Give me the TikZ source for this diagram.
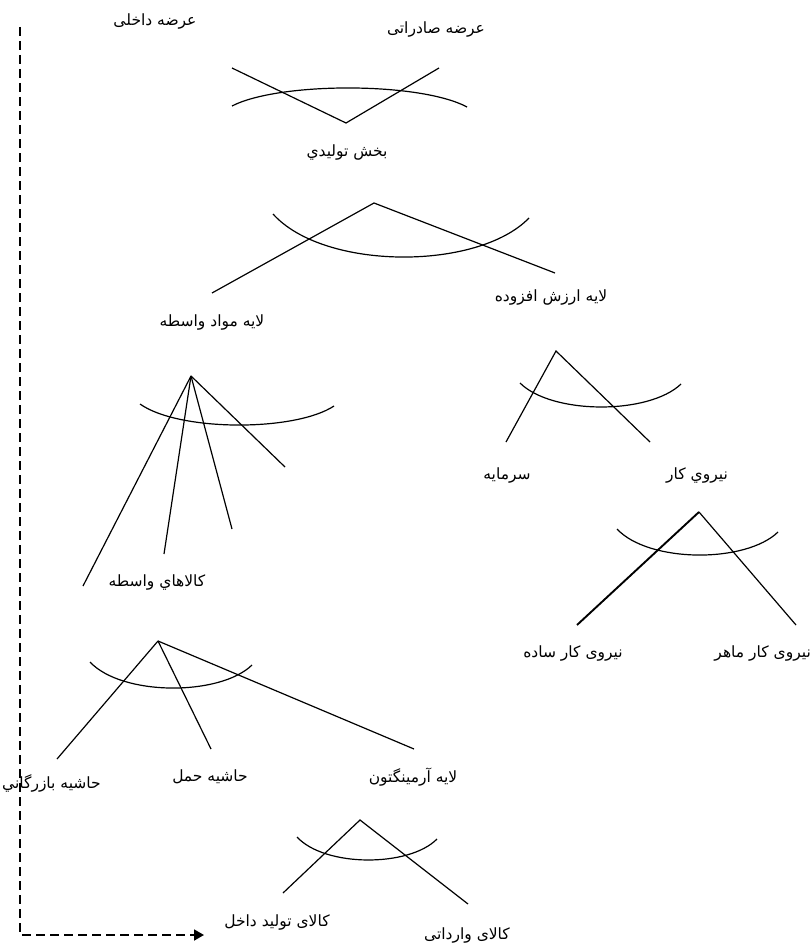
\documentclass[tikz,border=0pt]{standalone}
\usepackage{fontspec}
\TeXXeTstate=1
\newfontfamily\arabicfont[Script=Arabic]{DejaVu Sans}
\usetikzlibrary{arrows.meta}

\newcommand{\fa}[1]{\beginR #1\endR}

\begin{document}
\begin{tikzpicture}[
    x=1pt, y=-1pt,
    txt/.style={font=\arabicfont\fontsize{15.5}{17}\selectfont, inner sep=0pt},
    branch/.style={line width=1.2pt},
    arcline/.style={line width=1.2pt},
    flow/.style={line width=1.8pt, dash pattern=on 9pt off 5pt}
]
\useasboundingbox (0,0) rectangle (811,947);

% Top: domestic / export supply
\node[txt] (dom) at (155,22) {\fa{عرضه داخلی}};
\node[txt] (exp) at (436,30) {\fa{عرضه صادراتی}};
\coordinate (a0) at (346,123);
\coordinate (a0l) at (232,68);
\coordinate (a0r) at (439,68);
\draw[branch] (a0l) -- (a0) -- (a0r);
\draw[arcline] (232,106) .. controls (279,81.8) and (420,81.8) .. (467,107);
\node[txt] (prod) at (347,153) {\fa{بخش توليدي}};

% Production sector
\coordinate (a1) at (374,203);
\coordinate (a1l) at (212,293);
\coordinate (a1r) at (555,273);
\draw[branch] (a1l) -- (a1) -- (a1r);
\draw[arcline] (273,214) .. controls (324,270.7) and (478,270.7) .. (529,218);
\node[txt] (inter) at (212,323) {\fa{لايه مواد واسطه}};
\node[txt] (va) at (551,298) {\fa{لايه ارزش افزوده}};

% Intermediate layer
\coordinate (a2) at (191,376);
\coordinate (a2a) at (83,586);
\coordinate (a2b) at (164,554);
\coordinate (a2c) at (232,529);
\coordinate (a2d) at (285,467);
\foreach \e in {a2a,a2b,a2c,a2d}
    \draw[branch] (a2) -- (\e);
\draw[arcline] (140,404) .. controls (179,431.7) and (295,431.7) .. (334,406);
\node[txt] (goods) at (157,582) {\fa{کالاهاي واسطه}};

% Value added layer
\coordinate (a3) at (556,351);
\coordinate (a3l) at (506,442);
\coordinate (a3r) at (650,442);
\draw[branch] (a3l) -- (a3) -- (a3r);
\draw[arcline] (520,383) .. controls (552,414.8) and (649,414.8) .. (681,384);
\node[txt] (capital) at (507,475) {\fa{سرمايه}};
\node[txt] (lab) at (697,475) {\fa{نيروي کار}};

% Labour
\coordinate (a4) at (699,512);
\coordinate (a4l) at (577,625);
\coordinate (a4r) at (796,625);
\draw[line width=1.9pt] (a4l) -- (a4);
\draw[branch] (a4) -- (a4r);
\draw[arcline] (617,529) .. controls (649,563.2) and (746,563.2) .. (778,532);
\node[txt] (simple) at (573,653) {\fa{نیروی کار ساده}};
\node[txt, anchor=east] (skill) at (811,653) {\fa{نیروی کار ماهر}};

% Intermediate goods
\coordinate (a5) at (158,641);
\coordinate (a5a) at (57,759);
\coordinate (a5b) at (211,749);
\coordinate (a5c) at (414,749);
\foreach \e in {a5a,a5b,a5c}
    \draw[branch] (a5) -- (\e);
\draw[arcline] (90,662) .. controls (122,696.2) and (220,696.2) .. (252,665);
\node[txt, anchor=west] (trade) at (2,783) {\fa{حاشيه بازرگاني}};
\node[txt] (trans) at (210,777) {\fa{حاشيه حمل}};
\node[txt] (arm) at (413,777) {\fa{لايه آرمينگتون}};

% Armington layer
\coordinate (a6) at (360,820);
\coordinate (a6l) at (283,893);
\coordinate (a6r) at (468,904);
\draw[branch] (a6l) -- (a6) -- (a6r);
\draw[arcline] (297,837) .. controls (325,867.3) and (409,867.3) .. (437,839);
\node[txt] (local) at (277,922) {\fa{کالای تولید داخل}};
\node[txt] (imp) at (467,935) {\fa{کالای وارداتی}};

% Dashed flow
\coordinate (ftop) at (20,27);
\coordinate (ftip) at (204,935);
\draw[flow, -{Triangle[length=10pt,width=11pt]}] (ftop) |- (ftip);

\end{tikzpicture}
\end{document}
